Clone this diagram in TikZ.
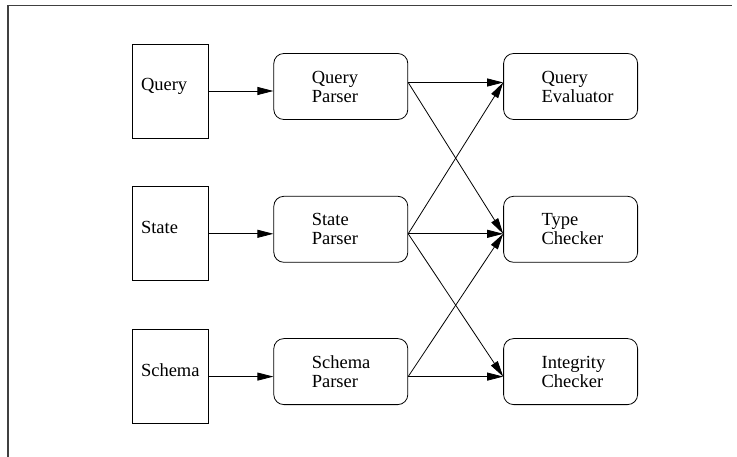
\documentclass[tikz,border=0pt]{standalone}
\usepackage{fontspec}
\setmainfont{Liberation Serif}
\usetikzlibrary{arrows.meta, positioning, calc}
\hyphenpenalty=10000
\hbadness=10000

\begin{document}
\begin{tikzpicture}[x=1pt, y=-1pt, >={Triangle[length=16pt,width=8pt]},
   font=\fontsize{18.5}{19}\selectfont,
   srcbox/.style={draw, line width=0.8pt, minimum width=76pt, minimum height=94pt,
      text width=58pt, inner xsep=9pt, align=left, text height=12pt, text depth=12pt},
   modbox/.style={draw, line width=0.8pt, rounded corners=10pt, minimum width=134pt,
      minimum height=66pt, text width=58pt, inner xsep=38pt, align=left},
   link/.style={->, line width=0.8pt}]
   \useasboundingbox (0,0) rectangle (737,457);
   \draw[line width=1.2pt, black!75] (8,457) -- (8,5.5) -- (732,5.5);

   \node[srcbox] (query) at (170,91) {Query};
   \node[srcbox] (state)  [below=48pt of query] {State};
   \node[srcbox] (schema) [below=48pt of state] {Schema};

   \node[modbox] (qparser)  [right=65pt of query, yshift=4.5pt] {Query\\Parser};
   \node[modbox] (sparser)  [right=65pt of state, yshift=4.5pt] {State\\Parser};
   \node[modbox] (scparser) [right=65pt of schema, yshift=5pt] {Schema\\Parser};

   \node[modbox] (qeval)  [right=95pt of qparser]  {Query\\Evaluator};
   \node[modbox] (tcheck) [right=95pt of sparser]  {Type\\Checker};
   \node[modbox] (icheck) [right=95pt of scparser] {Integrity\\Checker};

   \coordinate (qpout)  at ($(qparser.east)+(0pt,4pt)$);
   \coordinate (spout)  at (sparser.east |- state.east);
   \coordinate (scpout) at (scparser.east |- schema.east);
   \coordinate (qein) at (qeval.west |- qpout);
   \coordinate (tcin) at (tcheck.west |- spout);
   \coordinate (icin) at (icheck.west |- scpout);

   \path[link] (query)  edge (query -| qparser.west);
   \path[link] (state)  edge (state -| sparser.west);
   \path[link] (schema) edge (schema -| scparser.west);

   \path[link] (qpout)  edge (qein) edge (tcin);
   \path[link] (spout)  edge (qein) edge (tcin) edge (icin);
   \path[link] (scpout) edge (tcin) edge (icin);
\end{tikzpicture}
\end{document}
